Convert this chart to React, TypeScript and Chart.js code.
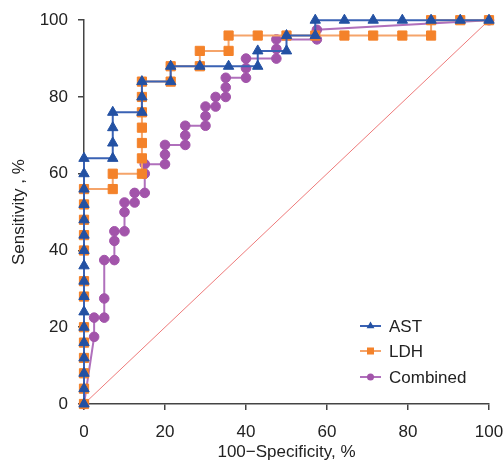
import React, { useEffect, useRef } from "react";
import { Chart, registerables } from "chart.js";

Chart.register(...registerables);

// 100 - Specificity (%) and Sensitivity (%) for each ROC curve
const astX = [0, 0, 0, 0, 0, 0, 0, 0, 0, 0, 0, 0, 0, 0, 0, 0, 0, 7.1, 7.1, 7.1, 7.1, 14.3, 14.3, 14.3, 21.4, 21.4, 28.6, 35.7, 42.9, 42.9, 50, 50, 57.1, 57.1, 64.3, 71.4, 78.6, 85.7, 92.9, 100];
const astY = [0, 4, 8, 12, 16, 20, 24, 28, 32, 36, 40, 44, 48, 52, 56, 60, 64, 64, 68, 72, 76, 76, 80, 84, 84, 88, 88, 88, 88, 92, 92, 96, 96, 100, 100, 100, 100, 100, 100, 100];

const ldhX = [0, 0, 0, 0, 0, 0, 0, 0, 0, 0, 0, 0, 0, 7.1, 7.1, 14.3, 14.3, 14.3, 14.3, 14.3, 14.3, 14.3, 21.4, 21.4, 28.6, 28.6, 35.7, 35.7, 42.9, 50, 57.1, 64.3, 71.4, 78.6, 85.7, 85.7, 92.9, 100];
const ldhY = [0, 4, 8, 12, 16, 20, 28, 32, 40, 44, 48, 52, 56, 56, 60, 60, 64, 68, 72, 76, 80, 84, 84, 88, 88, 92, 92, 96, 96, 96, 96, 96, 96, 96, 96, 100, 100, 100];

const combX = [0, 2.5, 2.5, 5, 5, 5, 7.5, 7.5, 7.5, 10, 10, 10, 12.5, 12.5, 15, 15, 15, 20, 20, 20, 25, 25, 25, 30, 30, 30, 32.5, 32.5, 35, 35, 35, 40, 40, 40, 47.5, 47.5, 47.5, 57.5, 57.5, 100];
const combY = [0, 17.5, 22.5, 22.5, 27.5, 37.5, 37.5, 42.5, 45, 45, 50, 52.5, 52.5, 55, 55, 60, 62.5, 62.5, 65, 67.5, 67.5, 70, 72.5, 72.5, 75, 77.5, 77.5, 80, 80, 82.5, 85, 85, 87.5, 90, 90, 92.5, 95, 95, 97.5, 100];

const refX = [0, 100];
const refY = [0, 100];

const xTicks = [0, 20, 40, 60, 80, 100];
const yTicks = [0, 20, 40, 60, 80, 100];

const seriesNames = ["AST", "LDH", "Combined"];

const FONT = "'Liberation Sans', Arial, Helvetica, sans-serif";

const toPts = (xs: number[], ys: number[]) => xs.map((x, i) => ({ x, y: ys[i] }));

const legendPlugin = {
  id: "insideLegend",
  afterDraw(chart: any) {
    const ctx = chart.ctx;
    const rows = [
      { name: seriesNames[0], ds: 0, y: 326 },
      { name: seriesNames[1], ds: 1, y: 351 },
      { name: seriesNames[2], ds: 2, y: 377 },
    ];
    ctx.save();
    rows.forEach((r) => {
      const d = chart.data.datasets[r.ds];
      ctx.strokeStyle = d.borderColor;
      ctx.lineWidth = 2;
      ctx.beginPath();
      ctx.moveTo(360, r.y);
      ctx.lineTo(381, r.y);
      ctx.stroke();
      ctx.fillStyle = d.pointBackgroundColor;
      const cx = 370.5;
      if (d.pointStyle === "triangle") {
        const rr = 4.5;
        ctx.beginPath();
        ctx.moveTo(cx, r.y - rr);
        ctx.lineTo(cx + rr * 0.866, r.y + rr * 0.5);
        ctx.lineTo(cx - rr * 0.866, r.y + rr * 0.5);
        ctx.closePath();
        ctx.fill();
      } else if (d.pointStyle === "rect") {
        ctx.fillRect(cx - 3.5, r.y - 3.5, 7, 7);
      } else {
        ctx.beginPath();
        ctx.arc(cx, r.y, 3.5, 0, Math.PI * 2);
        ctx.fill();
      }
      ctx.fillStyle = "#222";
      ctx.font = `17px ${FONT}`;
      ctx.textAlign = "left";
      ctx.textBaseline = "middle";
      ctx.fillText(r.name, 389, r.y + 1);
    });
    ctx.restore();
  },
};

export default function App() {
  const ref = useRef<HTMLCanvasElement | null>(null);

  useEffect(() => {
    if (!ref.current) return;
    const chart = new Chart(ref.current, {
      type: "scatter",
      data: {
        datasets: [
          {
            label: seriesNames[0],
            data: toPts(astX, astY),
            showLine: true,
            clip: false,
            borderColor: "#3a62b4",
            borderWidth: 2,
            pointStyle: "triangle",
            pointRadius: 6,
            pointBackgroundColor: "#2351a3",
            pointBorderColor: "#2351a3",
            pointBorderWidth: 1,
          },
          {
            label: seriesNames[1],
            data: toPts(ldhX, ldhY),
            showLine: true,
            clip: false,
            borderColor: "#f5a46a",
            borderWidth: 2,
            pointStyle: "rect",
            pointRadius: 6.5,
            pointBackgroundColor: "#f4822a",
            pointBorderColor: "#f4822a",
            pointBorderWidth: 1,
          },
          {
            label: seriesNames[2],
            data: toPts(combX, combY),
            showLine: true,
            clip: false,
            borderColor: "#b070bc",
            borderWidth: 2,
            pointStyle: "circle",
            pointRadius: 4.8,
            pointBackgroundColor: "#a254aa",
            pointBorderColor: "#a254aa",
            pointBorderWidth: 1,
          },
          {
            label: "ref",
            data: toPts(refX, refY),
            showLine: true,
            borderColor: "#ee7a7a",
            borderWidth: 1,
            pointRadius: 0,
          },
        ],
      },
      options: {
        responsive: false,
        animation: false,
        layout: { padding: { top: 20, right: 15, bottom: 0, left: 0 } },
        plugins: {
          legend: { display: false },
          tooltip: { enabled: false },
        },
        scales: {
          x: {
            type: "linear",
            min: 0,
            max: 100,
            afterBuildTicks: (s: any) => {
              s.ticks = xTicks.map((v) => ({ value: v }));
            },
            afterFit: (s: any) => {
              s.height = 59;
              s.paddingRight = 0;
              s.paddingLeft = 0;
            },
            ticks: {
              color: "#222",
              font: { family: FONT, size: 17 },
              padding: 12,
            },
            grid: {
              drawOnChartArea: false,
              drawTicks: true,
              tickLength: 6,
              color: "#444",
              lineWidth: 1.5,
            },
            border: { color: "#444", width: 1.5 },
            title: {
              display: true,
              text: "100−Specificity, %",
              color: "#222",
              font: { family: FONT, size: 17 },
              padding: { top: 0, bottom: 0 },
            },
          },
          y: {
            type: "linear",
            min: 0,
            max: 100,
            afterBuildTicks: (s: any) => {
              s.ticks = yTicks.map((v) => ({ value: v }));
            },
            afterFit: (s: any) => {
              s.width = 84;
            },
            ticks: {
              color: "#222",
              font: { family: FONT, size: 17 },
              padding: 10,
            },
            grid: {
              drawOnChartArea: false,
              drawTicks: true,
              tickLength: 6,
              color: "#444",
              lineWidth: 1.5,
            },
            border: { color: "#444", width: 1.5 },
            title: {
              display: true,
              text: "Sensitivity , %",
              color: "#222",
              font: { family: FONT, size: 17 },
              padding: { top: 9, bottom: 0 },
            },
          },
        },
      },
      plugins: [legendPlugin],
    } as any);
    return () => chart.destroy();
  }, []);

  return (
    <div style={{ position: "fixed", left: 0, top: 0, width: 504, height: 463, background: "#fff" }}>
      <canvas ref={ref} width={504} height={463} />
    </div>
  );
}
